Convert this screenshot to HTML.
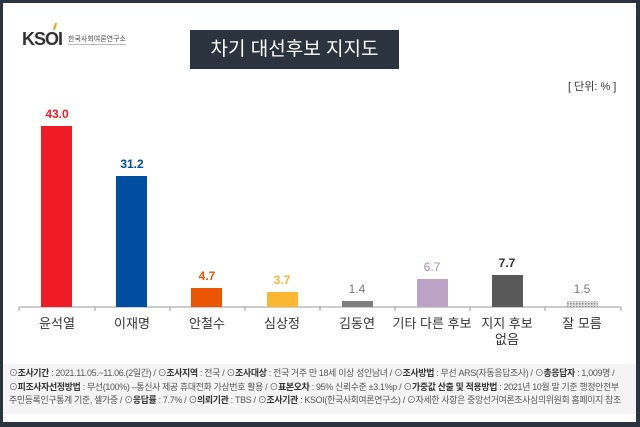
<!DOCTYPE html>
<html><head><meta charset="utf-8"><style>
body{margin:0;width:640px;height:427px;background:#2b343e;overflow:hidden;font-family:"Liberation Sans","Noto Sans CJK KR",sans-serif}
.in{position:absolute;left:3px;top:3px;width:633px;height:419px;background:#fff}
.t{position:absolute;left:190px;top:30px;width:209px;height:39px;background:#2b343e;color:#fff;font-size:19px;line-height:39px;text-align:center}
.foot{position:absolute;left:3px;top:364px;width:633px;height:50px;background:#f4f4f4;font-size:8.9px;color:#555;line-height:13.5px;padding:3px 0 0 6px;box-sizing:border-box;white-space:nowrap;letter-spacing:-0.3px;overflow:hidden}
.foot b{color:#333}
</style></head><body>
<div class="in"></div>
<div style="position:absolute;left:22px;top:29px;font-size:18px;font-weight:bold;color:#333;letter-spacing:-1px">KSOI</div>
<div style="position:absolute;left:54px;top:23px;width:2px;height:7px;background:#f5a000;transform:rotate(20deg)"></div>
<div style="position:absolute;left:68px;top:34px;font-size:7px;color:#444;border-bottom:1px solid #bbb">한국사회여론연구소</div>
<div class="t">차기 대선후보 지지도</div>
<div style="position:absolute;left:568px;top:78px;font-size:11px;color:#333">[ 단위: % ]</div>
<svg width="640" height="427" style="position:absolute;left:0;top:0" font-family="Liberation Sans, Noto Sans CJK KR, sans-serif">
<defs><pattern id="h" width="3" height="3" patternUnits="userSpaceOnUse"><rect width="3" height="3" fill="#ddd"/><rect width="1.5" height="1.5" fill="#888"/></pattern></defs>
<line x1="19" y1="307" x2="621" y2="307" stroke="#999"/>
<g stroke="#999"><line x1="19" y1="307" x2="19" y2="311"/><line x1="95" y1="307" x2="95" y2="311"/><line x1="170" y1="307" x2="170" y2="311"/><line x1="245" y1="307" x2="245" y2="311"/><line x1="320" y1="307" x2="320" y2="311"/><line x1="395" y1="307" x2="395" y2="311"/><line x1="470" y1="307" x2="470" y2="311"/><line x1="545" y1="307" x2="545" y2="311"/><line x1="621" y1="307" x2="621" y2="311"/></g>
<rect x="41" y="126" width="31" height="181" fill="#ef1c25"/>
<rect x="116" y="176" width="31" height="131" fill="#004ea2"/>
<rect x="191" y="288" width="31" height="19" fill="#ea5504"/>
<rect x="267" y="292" width="31" height="15" fill="#fbb731"/>
<rect x="342" y="301" width="31" height="6" fill="#7f7f7f"/>
<rect x="417" y="279" width="31" height="28" fill="#bca3c6"/>
<rect x="492" y="275" width="31" height="32" fill="#595959"/>
<rect x="567" y="301" width="31" height="6" fill="url(#h)"/>
<g font-size="12" font-weight="bold" text-anchor="middle">
<text x="57" y="118" fill="#ef1c25">43.0</text>
<text x="132" y="168" fill="#004ea2">31.2</text>
<text x="207" y="280" fill="#ea5504">4.7</text>
<text x="282" y="284" fill="#fbb731">3.7</text>
<text x="357" y="293" fill="#777" font-weight="normal">1.4</text>
<text x="432" y="271" fill="#a58bb0" font-weight="normal">6.7</text>
<text x="507" y="267" fill="#333">7.7</text>
<text x="582" y="293" fill="#777" font-weight="normal">1.5</text>
</g>
<g font-size="13" fill="#333" text-anchor="middle">
<text x="57" y="328">윤석열</text><text x="132" y="328">이재명</text><text x="207" y="328">안철수</text><text x="282" y="328">심상정</text><text x="357" y="328">김동연</text><text x="432" y="328">기타 다른 후보</text><text x="507" y="328">지지 후보</text><text x="507" y="344">없음</text><text x="582" y="328">잘 모름</text>
</g>
</svg>
<div class="foot">⊙<b>조사기간</b> : 2021.11.05.~11.06.(2일간) / ⊙<b>조사지역</b> : 전국 / ⊙<b>조사대상</b> : 전국 거주 만 18세 이상 성인남녀 / ⊙<b>조사방법</b> : 무선 ARS(자동응답조사) / ⊙<b>총응답자</b> : 1,009명 /<br>⊙<b>피조사자선정방법</b> : 무선(100%) –통신사 제공 휴대전화 가상번호 활용 / ⊙<b>표본오차</b> : 95% 신뢰수준 ±3.1%p / ⊙<b>가중값 산출 및 적용방법</b> : 2021년 10월 말 기준 행정안전부<br>주민등록인구통계 기준, 셀가중 / ⊙<b>응답률</b> : 7.7% / ⊙<b>의뢰기관</b> : TBS / ⊙<b>조사기관</b> : KSOI(한국사회여론연구소) / ⊙자세한 사항은 중앙선거여론조사심의위원회 홈페이지 참조</div>
</body></html>
